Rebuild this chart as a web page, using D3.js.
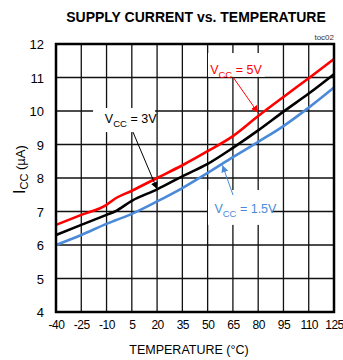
<!DOCTYPE html>
<html>
<head>
<meta charset="utf-8">
<script src="https://cdn.jsdelivr.net/npm/d3@7"></script>
<style>
  body { margin: 0; background: #fff; }
  svg { display: block; font-family: "Liberation Sans", Arial, sans-serif; }
</style>
</head>
<body>
<div id="chart"></div>
<script>
// data
const temps = [-40, -25, -10, -5, 5, 20, 35, 50, 65, 80, 95, 110, 125];
const vcc5 = [6.6, 6.9, 7.2, 7.38, 7.62, 8.0, 8.38, 8.8, 9.25, 9.85, 10.42, 10.98, 11.55];
const vcc3 = [6.3, 6.6, 6.9, 7.0, 7.32, 7.66, 8.05, 8.42, 8.9, 9.42, 9.98, 10.52, 11.1];
const vcc15 = [6.0, 6.3, 6.63, 6.73, 6.93, 7.3, 7.7, 8.15, 8.62, 9.08, 9.55, 10.1, 10.7];
const xTicks = [-40, -25, -10, 5, 20, 35, 50, 65, 80, 95, 110, 125];
const yTicks = [4, 5, 6, 7, 8, 9, 10, 11, 12];

const width = 343, height = 360;
const margin = {top: 44, right: 9, bottom: 48, left: 56};

const svg = d3.select('#chart').append('svg')
    .attr('width', width)
    .attr('height', height);

const x = d3.scaleLinear().domain([-40, 125]).range([margin.left, width - margin.right]);
const y = d3.scaleLinear().domain([4, 12]).range([height - margin.bottom, margin.top]);

// title
svg.append('text')
    .attr('x', 196).attr('y', 22)
    .attr('text-anchor', 'middle')
    .style('font-size', '14px').style('font-weight', 'bold')
    .text('SUPPLY CURRENT vs. TEMPERATURE');

svg.append('text')
    .attr('x', 334).attr('y', 40)
    .attr('text-anchor', 'end')
    .style('font-size', '8px').style('fill', '#333')
    .text('toc02');

// grid
svg.append('g').selectAll('line')
    .data(xTicks.slice(1, -1))
    .enter().append('line')
    .attr('x1', d => x(d)).attr('x2', d => x(d))
    .attr('y1', y(4)).attr('y2', y(12))
    .attr('stroke', '#111').attr('stroke-width', 1.3);

svg.append('g').selectAll('line')
    .data(yTicks.slice(1, -1))
    .enter().append('line')
    .attr('x1', x(-40)).attr('x2', x(125))
    .attr('y1', d => y(d)).attr('y2', d => y(d))
    .attr('stroke', '#111').attr('stroke-width', 1.3);

// axes (labels only)
const xAxis = svg.append('g')
    .attr('transform', 'translate(0,' + y(4) + ')')
    .call(d3.axisBottom(x).tickValues(xTicks).tickFormat(d => String(d)).tickSize(0).tickPadding(8));
const yAxis = svg.append('g')
    .attr('transform', 'translate(' + x(-40) + ',0)')
    .call(d3.axisLeft(y).tickValues(yTicks).tickFormat(d => String(d)).tickSize(0).tickPadding(12));
[xAxis, yAxis].forEach(a => {
    a.select('.domain').remove();
    a.selectAll('text')
        .style('font-family', '"Liberation Sans", Arial, sans-serif')
        .style('font-size', '12px').style('fill', '#000');
});
xAxis.selectAll('text').style('letter-spacing', '-0.5px');
yAxis.selectAll('text').attr('dy', '0.36em').style('font-size', '13px');

svg.append('text')
    .attr('x', 189).attr('y', 354)
    .attr('text-anchor', 'middle')
    .style('font-size', '12.5px')
    .text('TEMPERATURE (°C)');

const yTitle = svg.append('text')
    .attr('transform', 'translate(25,' + y(8.25) + ') rotate(-90)')
    .attr('text-anchor', 'middle')
    .style('font-size', '16px');
yTitle.append('tspan').text('I');
yTitle.append('tspan').attr('dy', 3).style('font-size', '11px').text('CC');
yTitle.append('tspan').attr('dy', -3).style('font-size', '13px').text(' (µA)');

// label boxes (cover grid)
function box(x0, y0, x1, y1) {
    svg.append('rect')
        .attr('x', x(x0)).attr('y', y(y0))
        .attr('width', x(x1) - x(x0)).attr('height', y(y1) - y(y0))
        .attr('fill', '#fff');
}
box(-18, 10.09, 18.8, 9.37);
box(50.2, 11.73, 84, 11.02);
box(50.2, 7.64, 88, 6.6);

// curves
const line = d3.line()
    .x((d, i) => x(temps[i]))
    .y(d => y(d))
    .curve(d3.curveMonotoneX);

const series = [
    {values: vcc15, color: '#4a8ad8'},
    {values: vcc3, color: '#000'},
    {values: vcc5, color: '#ff0000'}
];
svg.append('g').selectAll('path')
    .data(series)
    .enter().append('path')
    .attr('d', d => line(d.values))
    .attr('fill', 'none')
    .attr('stroke', d => d.color)
    .attr('stroke-width', 2.6);

// frame
svg.append('rect')
    .attr('x', x(-40)).attr('y', y(12))
    .attr('width', x(125) - x(-40)).attr('height', y(4) - y(12))
    .attr('fill', 'none').attr('stroke', '#000').attr('stroke-width', 2.5);

// annotations
const defs = svg.append('defs');
['#000', '#ff0000', '#4a8ad8'].forEach((c, i) => {
    defs.append('marker')
        .attr('id', 'arr' + i)
        .attr('viewBox', '0 0 10 10')
        .attr('refX', 10).attr('refY', 5)
        .attr('markerWidth', 7).attr('markerHeight', 7)
        .attr('markerUnits', 'userSpaceOnUse')
        .attr('orient', 'auto')
        .append('path').attr('d', 'M0,0L10,5L0,10z').attr('fill', c);
});

function label(tx, ty, volts, color, size) {
    const t = svg.append('text')
        .attr('x', x(tx)).attr('y', y(ty))
        .style('font-size', size + 'px').style('fill', color);
    t.append('tspan').text('V');
    t.append('tspan').attr('dy', 4).style('font-size', (size - 3) + 'px').text('CC');
    t.append('tspan').attr('dy', -4).text(' = ' + volts);
}
function arrow(x0, y0, x1, y1, color, i) {
    svg.append('line')
        .attr('x1', x(x0)).attr('y1', y(y0))
        .attr('x2', x(x1)).attr('y2', y(y1))
        .attr('stroke', color).attr('stroke-width', 1)
        .attr('marker-end', 'url(#arr' + i + ')');
}

label(-11, 9.63, '3V', '#000', 12.5);
arrow(5.7, 9.37, 20, 7.67, '#000', 0);

label(51.5, 11.1, '5V', '#ff0000', 12.5);
arrow(65.1, 11.01, 79.9, 9.95, '#ff0000', 1);

label(54, 6.95, '1.5V', '#4a8ad8', 12.5);
arrow(65.1, 7.49, 58.8, 8.38, '#4a8ad8', 2);
</script>
</body>
</html>
